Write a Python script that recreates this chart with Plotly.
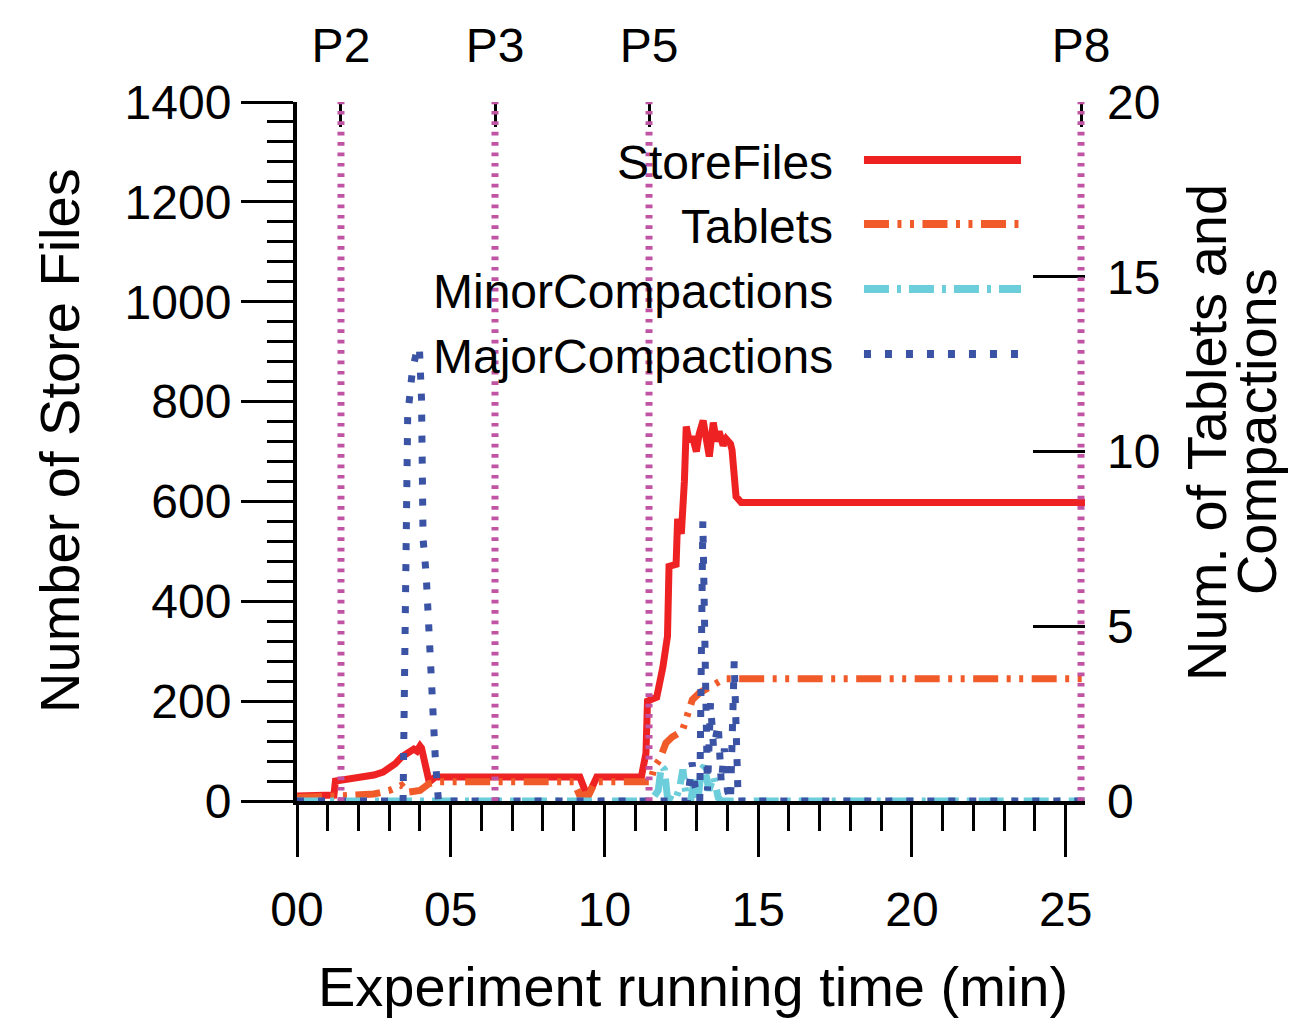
import plotly.graph_objects as go

# ---------------- data ----------------
store_t = [0, 1.2, 1.25, 1.5, 2.0, 2.5, 2.8, 3.0, 3.2, 3.4, 3.6, 3.8, 3.9, 4.0, 4.05, 4.3, 4.5,
           9.2, 9.45, 9.75, 11.2, 11.35, 11.4, 11.7, 11.9, 12.05, 12.1, 12.33, 12.38, 12.5, 12.6,
           12.66, 12.76, 12.86, 12.99, 13.08, 13.21, 13.31, 13.41, 13.54, 13.64, 13.73, 13.86,
           13.96, 14.1, 14.15, 14.28, 14.45, 25.63]
store_v = [10, 12, 40, 42, 46, 52, 58, 66, 75, 88, 95, 104, 100, 110, 106, 38, 48,
           48, 8, 48, 48, 96, 200, 208, 268, 330, 470, 474, 565, 535, 640,
           750, 720, 730, 700, 735, 762, 715, 690, 758, 720, 740, 712,
           725, 715, 703, 610, 598, 598]

tablets_t = [0, 1.3, 1.5, 2.5, 3.0, 3.4, 3.6, 4.0, 4.3, 4.6, 9.0, 9.2, 9.5, 9.7, 11.5, 11.62,
             11.8, 12.0, 12.2, 12.53, 12.7, 12.86, 13.1, 13.5, 13.9, 25.63]
tablets_v = [0.1, 0.1, 0.15, 0.2, 0.3, 0.45, 0.25, 0.3, 0.5, 0.55, 0.55, 0.15, 0.2, 0.55, 0.55, 0.97,
             1.2, 1.66, 1.83, 2.0, 2.5, 2.9, 3.1, 3.3, 3.5, 3.5]

minor_t = [0, 11.5, 11.75, 11.85, 11.95, 12.05, 12.3, 12.45, 12.55, 12.65, 12.8, 12.95, 13.05,
           13.15, 13.25, 13.4, 13.55, 13.7, 13.8, 25.63]
minor_v = [0, 0, 0.3, 1.0, 0.9, 0.1, 0, 0.4, 0.9, 0.2, 0, 0.7, 0.1,
           0.9, 1.0, 0.3, 0.7, 0.1, 0, 0]

major_t = [0, 3.45, 3.6, 3.75, 3.9, 3.98, 4.05, 4.1, 4.2, 4.3, 4.38, 4.5, 4.6,
           12.7, 12.85, 12.95, 13.1, 13.2, 13.35, 13.45, 13.55, 13.7, 13.8, 13.9, 14.0, 14.1,
           14.22, 14.35, 25.63]
major_v = [0, 0, 11, 12.3, 12.9, 13, 11.5, 7.5, 6.5, 4.5, 2.5, 1.2, 0,
           0, 1.1, 0.4, 0, 8.0, 0.3, 2.8, 1.5, 2.2, 0.5, 1.5, 0.3, 0,
           4.0, 0, 0]

phase_pos = [1.43, 6.44, 11.45, 25.5]
phase_lbl = ["P2", "P3", "P5", "P8"]

x_tickvals = [0, 5, 10, 15, 20, 25]
x_ticktext = ["00", "05", "10", "15", "20", "25"]
yl_tickvals = [0, 200, 400, 600, 800, 1000, 1200, 1400]
yr_tickvals = [0, 5, 10, 15, 20]

series_names = ["StoreFiles", "Tablets", "MinorCompactions", "MajorCompactions"]
x_title = "Experiment running time (min)"
left_title = "Number of Store Files"
right_title_lines = ["Num. of Tablets and", "Compactions"]

# ---------------- styles ----------------
FONT = "Liberation Sans, Arial, sans-serif"
RED = "#ee2222"
ORANGE = "#f15a29"
CYAN = "#6ccedb"
BLUE = "#3a53a4"
MAGENTA = "#c053a3"
dashes = ["solid", "25px,8.5px,4px,8.5px,4px,8.5px", "25px,8px,4px,8px", "7px,14px"]
colors = [RED, ORANGE, CYAN, BLUE]
TICK_FS = 48
TITLE_FS = 56

fig = go.Figure()
fig.add_trace(go.Scatter(x=store_t, y=store_v, mode="lines", name=series_names[0],
                         line=dict(color=RED, width=7, dash=dashes[0]), yaxis="y", xaxis="x"))
fig.add_trace(go.Scatter(x=tablets_t, y=tablets_v, mode="lines", name=series_names[1],
                         line=dict(color=ORANGE, width=7, dash=dashes[1]), yaxis="y2", xaxis="x"))
fig.add_trace(go.Scatter(x=minor_t, y=minor_v, mode="lines", name=series_names[2],
                         line=dict(color=CYAN, width=7, dash=dashes[2]), yaxis="y2", xaxis="x"))
fig.add_trace(go.Scatter(x=major_t, y=major_v, mode="lines", name=series_names[3],
                         line=dict(color=BLUE, width=7, dash=dashes[3]), yaxis="y2", xaxis="x"))
# invisible trace to anchor top axis
fig.add_trace(go.Scatter(x=phase_pos, y=[None] * len(phase_pos), mode="lines", xaxis="x2",
                         yaxis="y", showlegend=False, hoverinfo="skip"))

shapes = []
for p in phase_pos:
    shapes.append(dict(type="line", xref="x", yref="paper", x0=p, x1=p, y0=0, y1=1,
                       line=dict(color=MAGENTA, width=7, dash="3.7px,6.7px"), layer="above"))

# custom legend (text left of the line sample)
leg_y = [0.917, 0.8255, 0.7325, 0.6395]
annotations = []
for name, yy, c, d in zip(series_names, leg_y, colors, dashes):
    shapes.append(dict(type="line", xref="paper", yref="paper", x0=0.7195, x1=0.9188, y0=yy, y1=yy,
                       line=dict(color=c, width=8, dash=d), layer="above"))
    annotations.append(dict(text=name, xref="paper", yref="paper", x=0.6827, y=yy - 0.003,
                            xanchor="right", yanchor="middle", showarrow=False,
                            font=dict(family=FONT, size=TICK_FS, color="black")))

# axis titles
annotations.append(dict(text=x_title, xref="paper", yref="paper", x=0.503, y=-0.265,
                        xanchor="center", yanchor="middle", showarrow=False,
                        font=dict(family=FONT, size=TITLE_FS, color="black")))
annotations.append(dict(text=left_title, xref="paper", yref="paper", x=-0.3008, y=0.5165,
                        xanchor="center", yanchor="middle", textangle=-90, showarrow=False,
                        font=dict(family=FONT, size=TITLE_FS, color="black")))
for txt, xx in zip(right_title_lines, [1.1548, 1.2185]):
    annotations.append(dict(text=txt, xref="paper", yref="paper", x=xx, y=0.528,
                            xanchor="center", yanchor="middle", textangle=-90, showarrow=False,
                            font=dict(family=FONT, size=TITLE_FS, color="black")))

axis_common = dict(showgrid=False, zeroline=False, tickcolor="black", tickwidth=3, automargin=False,
                   tickfont=dict(family=FONT, size=TICK_FS, color="black"))

fig.update_layout(
    width=1293, height=1024,
    margin=dict(l=297, r=208, t=102, b=223),
    paper_bgcolor="white", plot_bgcolor="white",
    showlegend=False,
    font=dict(family=FONT, color="black"),
    xaxis=dict(range=[0, 25.63], tickvals=x_tickvals, ticktext=x_ticktext,
               ticks="outside", ticklen=52, showline=True, linecolor="black", linewidth=4,
               ticklabelstandoff=11,
               minor=dict(tick0=0, dtick=1, ticks="outside", ticklen=26, tickwidth=3, tickcolor="black"),
               **axis_common),
    xaxis2=dict(range=[0, 25.63], overlaying="x", side="top", anchor="y",
                tickvals=phase_pos, ticktext=phase_lbl, ticks="inside", ticklen=25,
                ticklabelstandoff=29,
                showline=False, **axis_common),
    yaxis=dict(range=[0, 1400], tickvals=yl_tickvals, ticks="outside", ticklen=52,
               showline=True, linecolor="black", linewidth=4,
               minor=dict(tick0=0, dtick=40, ticks="outside", ticklen=26, tickwidth=3, tickcolor="black"),
               **axis_common),
    yaxis2=dict(range=[0, 20], overlaying="y", side="right", anchor="x",
                tickvals=yr_tickvals, ticks="inside", ticklen=52, showline=False,
                ticklabelstandoff=21,
                **axis_common),
    shapes=shapes,
    annotations=annotations,
)

# remove the default 8px page margin so the figure fills the window exactly
fig.write_html("out.html", config={"displayModeBar": False},
               post_script="document.body.style.margin='0px';document.body.style.overflow='hidden';")
